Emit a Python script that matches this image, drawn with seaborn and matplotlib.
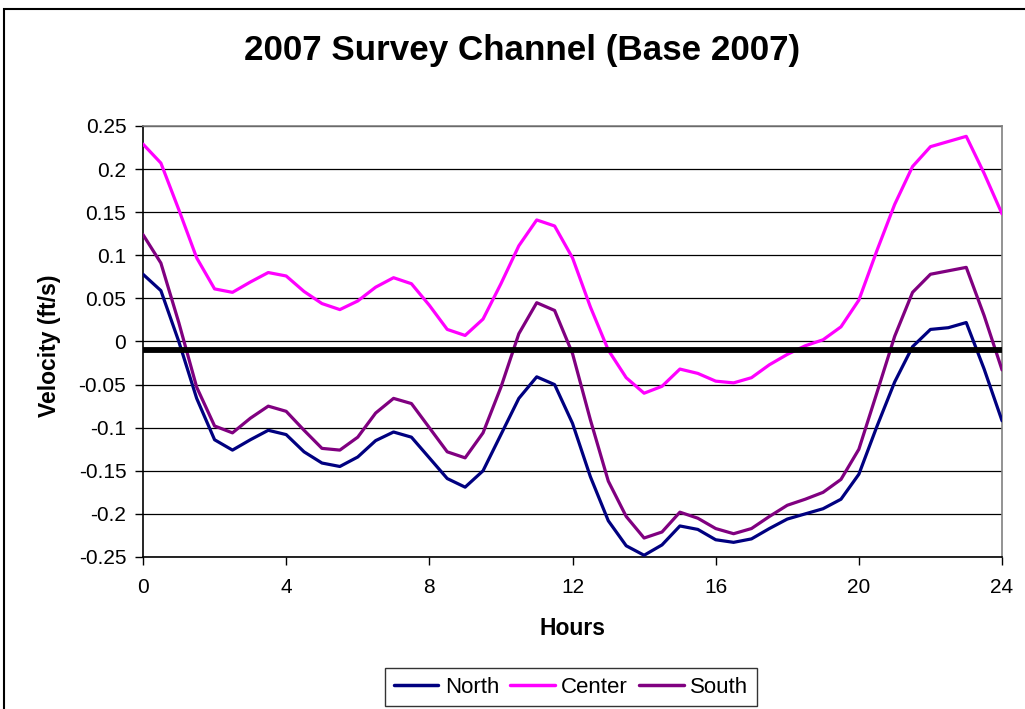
import numpy as np
import pandas as pd
import matplotlib
matplotlib.use("Agg")
import matplotlib.pyplot as plt
import seaborn as sns
from matplotlib.patches import Rectangle

# half-hour samples over one day
hours = [i * 0.5 for i in range(49)]

north = [0.078, 0.059, 0.000, -0.066, -0.114, -0.126, -0.114, -0.103, -0.108,
         -0.128, -0.141, -0.145, -0.134, -0.115, -0.105, -0.111, -0.135,
         -0.159, -0.169, -0.150, -0.108, -0.066, -0.041, -0.050, -0.095,
         -0.157, -0.208, -0.237, -0.248, -0.236, -0.214, -0.218, -0.230,
         -0.233, -0.229, -0.217, -0.206, -0.200, -0.194, -0.183, -0.154,
         -0.099, -0.047, -0.006, 0.014, 0.016, 0.022, -0.032, -0.092]
center = [0.229, 0.207, 0.153, 0.097, 0.061, 0.057, 0.069, 0.080, 0.076,
          0.058, 0.044, 0.037, 0.047, 0.063, 0.074, 0.067, 0.042,
          0.014, 0.007, 0.026, 0.067, 0.111, 0.141, 0.134, 0.097,
          0.040, -0.010, -0.042, -0.060, -0.052, -0.032, -0.037, -0.046,
          -0.048, -0.042, -0.027, -0.015, -0.005, 0.002, 0.017, 0.048,
          0.105, 0.159, 0.203, 0.226, 0.232, 0.238, 0.195, 0.148]
south = [0.124, 0.091, 0.022, -0.053, -0.098, -0.106, -0.089, -0.075, -0.081,
         -0.103, -0.124, -0.126, -0.111, -0.083, -0.066, -0.072, -0.100,
         -0.128, -0.135, -0.106, -0.053, 0.009, 0.045, 0.036, -0.014,
         -0.091, -0.162, -0.203, -0.228, -0.221, -0.198, -0.205, -0.217,
         -0.223, -0.217, -0.203, -0.190, -0.183, -0.175, -0.160, -0.125,
         -0.060, 0.006, 0.057, 0.078, 0.082, 0.086, 0.030, -0.033]

series_names = ["North", "Center", "South"]
colors = {"North": "#000080", "Center": "#FF00FF", "South": "#800080"}
reference_level = -0.01

x_ticks = [0, 4, 8, 12, 16, 20, 24]
y_ticks = [0.25, 0.2, 0.15, 0.1, 0.05, 0, -0.05, -0.1, -0.15, -0.2, -0.25]

df = pd.DataFrame({
    "Hours": hours * 3,
    "Velocity": north + center + south,
    "Site": [s for s in series_names for _ in hours],
})

sns.set_style("white")
plt.rcParams["font.family"] = ["Liberation Sans", "DejaVu Sans"]
plt.rcParams.update({"text.color": "black", "axes.labelcolor": "black",
                     "xtick.color": "black", "ytick.color": "black"})

fig = plt.figure(figsize=(10.25, 7.09), dpi=100)
ax = fig.add_axes([0.1395, 0.2144, 0.8381, 0.6079])

for y in y_ticks:
    ax.axhline(y, color="black", lw=0.9, zorder=1)

sns.lineplot(data=df, x="Hours", y="Velocity", hue="Site", hue_order=series_names,
             palette=colors, lw=2.3, ax=ax, legend=True, zorder=3)

ax.axhline(reference_level, color="black", lw=4.2, zorder=4)

ax.set_xlim(0, 24)
ax.set_ylim(-0.25, 0.25)
ax.set_xticks(x_ticks)
ax.set_yticks(y_ticks)
ax.set_yticklabels([f"{round(v, 2):g}" for v in y_ticks])
ax.tick_params(axis="both", labelsize=15, direction="out", length=6, width=1,
               color="black", bottom=True, left=True)
ax.tick_params(axis="x", pad=9)
ax.tick_params(axis="y", pad=6)

for side in ["left", "bottom"]:
    ax.spines[side].set_color("black")
    ax.spines[side].set_linewidth(1.2)
for side in ["top", "right"]:
    ax.spines[side].set_color("#808080")
    ax.spines[side].set_linewidth(1.2)

ax.set_xlabel("Hours", fontsize=16.5, fontweight="bold")
ax.set_ylabel("Velocity (ft/s)", fontsize=16.5, fontweight="bold")
ax.xaxis.set_label_coords(0.5, -0.139)
ax.yaxis.set_label_coords(-0.095, 0.49)
fig.text(0.509, 0.929, "2007 Survey Channel (Base 2007)", ha="center", va="center",
         fontsize=25.2, fontweight="bold")

handles, labels = ax.get_legend_handles_labels()
ax.get_legend().remove()
leg = fig.legend(handles, labels, loc="center", bbox_to_anchor=(0.557, 0.031),
                 ncol=3, fontsize=16, frameon=True, fancybox=False, handlelength=2.0,
                 handletextpad=0.3, columnspacing=0.5, borderpad=0.4,
                 borderaxespad=0)
leg.get_frame().set_edgecolor("black")
leg.get_frame().set_linewidth(1.0)
for line in leg.get_lines():
    line.set_linewidth(2.5)

# outer chart border, running off the right and bottom edges
fig.patches.append(Rectangle((4 / 1025, -0.05), 1.1, 1 - 9 / 709 + 0.05,
                             transform=fig.transFigure, fill=False,
                             edgecolor="black", lw=1.5))

fig.savefig("out.png", dpi=100)
